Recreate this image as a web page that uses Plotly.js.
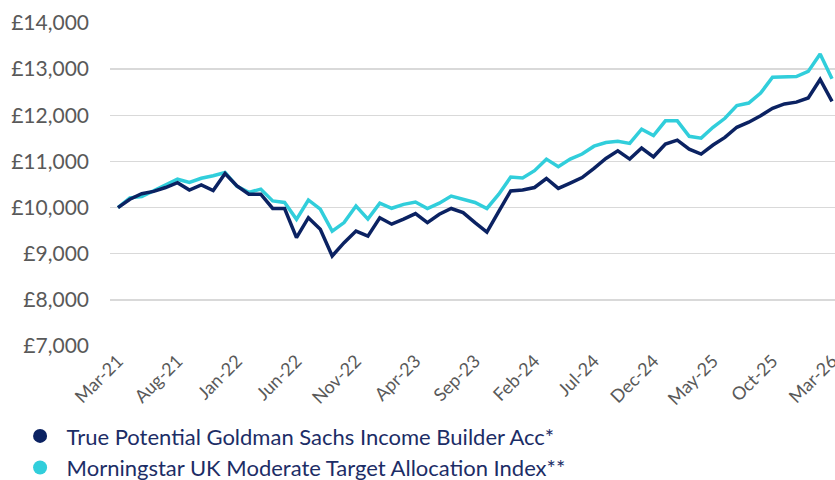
<!DOCTYPE html>
<html>
<head>
<meta charset="utf-8">
<script src="https://cdn.plot.ly/plotly-3.0.1.min.js"></script>
<style>html,body{margin:0;padding:0;background:#fff;}#chart{width:835px;height:480px;}</style>
</head>
<body>
<div id="chart"></div>
<script>
var months = ["Mar-21","Apr-21","May-21","Jun-21","Jul-21","Aug-21","Sep-21","Oct-21","Nov-21","Dec-21",
"Jan-22","Feb-22","Mar-22","Apr-22","May-22","Jun-22","Jul-22","Aug-22","Sep-22","Oct-22","Nov-22","Dec-22",
"Jan-23","Feb-23","Mar-23","Apr-23","May-23","Jun-23","Jul-23","Aug-23","Sep-23","Oct-23","Nov-23","Dec-23",
"Jan-24","Feb-24","Mar-24","Apr-24","May-24","Jun-24","Jul-24","Aug-24","Sep-24","Oct-24","Nov-24","Dec-24",
"Jan-25","Feb-25","Mar-25","Apr-25","May-25","Jun-25","Jul-25","Aug-25","Sep-25","Oct-25","Nov-25","Dec-25",
"Jan-26","Feb-26","Mar-26"];

var fundName = "True Potential Goldman Sachs Income Builder Acc*";
var indexName = "Morningstar UK Moderate Target Allocation Index**";

var fundValues = [10000,10180,10300,10350,10435,10540,10380,10490,10370,10740,
10470,10290,10290,9980,9980,9350,9780,9530,8950,9240,9490,9380,
9780,9640,9750,9870,9675,9855,9980,9890,9675,9470,9920,10360,
10380,10435,10630,10415,10530,10650,10850,11065,11230,11050,11290,11100,
11375,11460,11265,11160,11355,11520,11740,11850,11990,12150,12245,12285,
12375,12775,12300];

var indexValues = [10000,10210,10240,10370,10480,10615,10545,10635,10690,10760,
10460,10330,10400,10145,10110,9745,10165,9965,9490,9675,10035,9750,
10095,9985,10070,10120,9980,10095,10250,10180,10110,9980,10290,10660,
10640,10800,11050,10885,11050,11160,11330,11410,11435,11390,11700,11560,
11880,11880,11545,11505,11740,11935,12210,12265,12480,12825,12825,12840,
12950,13330,12790];

var tickLabels = ["Mar-21","Aug-21","Jan-22","Jun-22","Nov-22","Apr-23","Sep-23","Feb-24","Jul-24","Dec-24","May-25","Oct-25","Mar-26"];
var yTicks = [7000,8000,9000,10000,11000,12000,13000,14000];

var navy = "#0b2262";
var cyan = "#31cedb";

var traces = [
  {x: months, y: indexValues, type: "scatter", mode: "lines", line: {color: cyan, width: 3.5}, showlegend: false, hoverinfo: "skip"},
  {x: months, y: fundValues, type: "scatter", mode: "lines", line: {color: navy, width: 3.5}, showlegend: false, hoverinfo: "skip"},
  {x: [null], y: [null], type: "scatter", mode: "markers", name: fundName, marker: {color: navy, size: 14}, showlegend: true},
  {x: [null], y: [null], type: "scatter", mode: "markers", name: indexName, marker: {color: cyan, size: 14}, showlegend: true}
];

var layout = {
  width: 835, height: 480,
  margin: {l: 110, r: 0, t: 23, b: 134, autoexpand: false},
  paper_bgcolor: "#ffffff", plot_bgcolor: "#ffffff",
  font: {family: "Lato, 'Open Sans', sans-serif", color: "#595959"},
  showlegend: true,
  legend: {x: -0.133, y: -0.214, xanchor: "left", yanchor: "top", orientation: "v",
           font: {size: 22, color: "#1c2d66"}, tracegroupgap: 0, traceorder: "normal",
           itemwidth: 43, bgcolor: "rgba(0,0,0,0)"},
  xaxis: {type: "category", range: [-0.67, 60.25], tickmode: "array", tickvals: tickLabels, ticktext: tickLabels,
          tickangle: -45, tickfont: {size: 18, color: "#595959"}, showgrid: false, zeroline: false,
          showline: false, ticks: "", automargin: false, fixedrange: true},
  yaxis: {range: [7000, 14000], tickvals: yTicks, ticktext: yTicks.map(function(v){return "£" + v.toLocaleString("en-GB");}),
          tickfont: {size: 21, color: "#595959"}, showgrid: true, gridcolor: "#d9d9d9", gridwidth: 1.5,
          zeroline: false, showline: false, ticks: "", ticklabelstandoff: 20, automargin: false, fixedrange: true}
};

Plotly.newPlot("chart", traces, layout, {staticPlot: true, displayModeBar: false});
</script>
</body>
</html>
